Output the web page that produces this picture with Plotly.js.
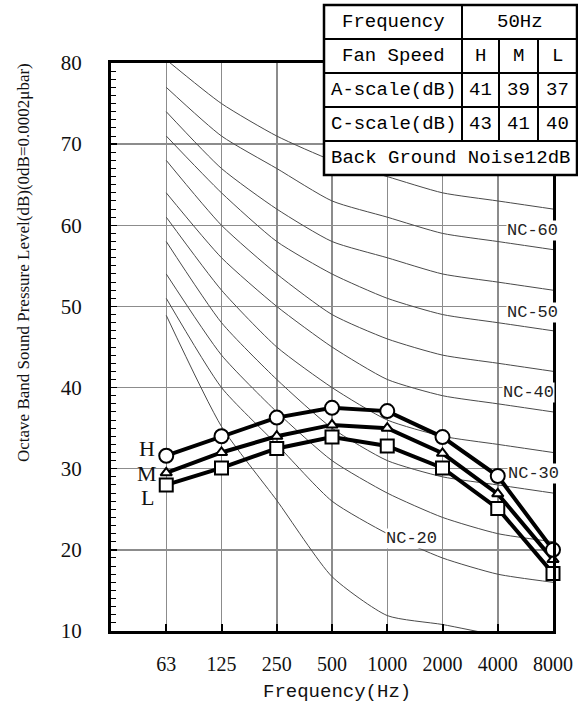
<!DOCTYPE html>
<html>
<head>
<meta charset="utf-8">
<script src="https://cdn.plot.ly/plotly-3.0.1.min.js"></script>
<style>html,body{margin:0;padding:0;background:#fff;}#chart{width:578px;height:711px;}</style>
</head>
<body>
<div id="chart"></div>
<script>
// ---- data ----
const categories = ["63", "125", "250", "500", "1000", "2000", "4000", "8000"];
const speedH = [31.6, 34.0, 36.3, 37.5, 37.1, 33.9, 29.1, 20.0];
const speedM = [29.5, 32.0, 34.0, 35.4, 35.0, 31.9, 26.9, 18.8];
const speedL = [28.0, 30.1, 32.5, 33.9, 32.8, 30.1, 25.1, 17.1];
const nc65 = [80.4, 75, 71, 68, 66, 64, 63, 62];
const nc60 = [77, 71, 67, 63, 61, 59, 58, 57];
const nc55 = [74, 67, 62, 58, 56, 54, 53, 52];
const nc50 = [71, 64, 58, 54, 51, 49, 48, 47];
const nc45 = [68, 60, 54, 49, 46, 44, 43, 42];
const nc40 = [64, 56, 50, 45, 41, 39, 38, 37];
const nc35 = [61, 52, 45, 40, 36, 34, 33, 32];
const nc30 = [58, 48, 41, 35, 31, 29, 28, 27];
const nc25 = [54, 44, 37, 31, 27, 24, 22, 21];
const nc20 = [51, 40, 33, 26, 22, 19, 17, 16];
const nc15 = [48.9, 35.2, 26.1, 16.7, 11.9, 10.8, 9.5, 9];
const ncCurves = [nc65, nc60, nc55, nc50, nc45, nc40, nc35, nc30, nc25, nc20, nc15];
const ncLabels = ["NC-60", "NC-50", "NC-40", "NC-30", "NC-20"];
const tableRows = [
  ["Frequency", "50Hz"],
  ["Fan Speed", "H", "M", "L"],
  ["A-scale(dB)", "41", "39", "37"],
  ["C-scale(dB)", "43", "41", "40"],
  ["Back Ground Noise12dB"]
];
const speedLabels = ["H", "M", "L"];

// ---- layout helpers (pixel -> paper) ----
const W = 578, H = 711, L = 111, R = 553, T = 63, B = 631;
const px = v => (v - L) / (R - L);
const py = v => (B - v) / (B - T);
const xi = categories.map((c, i) => i);

const traces = [];
ncCurves.forEach(arr => {
  traces.push({
    x: xi, y: arr, mode: "lines", type: "scatter",
    line: {color: "#4a4a4a", width: 1, shape: "spline", smoothing: 0.6},
    hoverinfo: "skip", showlegend: false, cliponaxis: true
  });
});
const series = [
  {y: speedL, sym: "square", size: 13},
  {y: speedM, sym: "triangle-up", size: 10},
  {y: speedH, sym: "circle", size: 14}
];
series.forEach(s => {
  traces.push({
    x: xi, y: s.y, mode: "lines+markers", type: "scatter",
    line: {color: "#000", width: 4},
    marker: {symbol: s.sym, size: s.size, color: "#fff", line: {color: "#000", width: 2}},
    showlegend: false, cliponaxis: false
  });
});

const mono = "Liberation Mono, DejaVu Sans Mono, monospace";
const serif = "Liberation Serif, DejaVu Serif, serif";

const shapes = [];
const annotations = [];
// table
const tx = [324, 462, 499, 538, 577];
const ty = [5, 39, 73, 107, 141, 175];
shapes.push({type: "rect", xref: "paper", yref: "paper", x0: px(tx[0]), x1: px(tx[4]), y0: py(ty[0]), y1: py(ty[5]),
  fillcolor: "#fff", line: {color: "#000", width: 2.5}, layer: "above"});
for (let r = 1; r < 5; r++) {
  shapes.push({type: "line", xref: "paper", yref: "paper", x0: px(tx[0]), x1: px(tx[4]), y0: py(ty[r]), y1: py(ty[r]),
    line: {color: "#000", width: 2}, layer: "above"});
}
shapes.push({type: "line", xref: "paper", yref: "paper", x0: px(tx[1]), x1: px(tx[1]), y0: py(ty[0]), y1: py(ty[4]),
  line: {color: "#000", width: 2}, layer: "above"});
[2, 3].forEach(c => {
  shapes.push({type: "line", xref: "paper", yref: "paper", x0: px(tx[c]), x1: px(tx[c]), y0: py(ty[1]), y1: py(ty[4]),
    line: {color: "#000", width: 2}, layer: "above"});
});
tableRows.forEach((row, r) => {
  const yc = py((ty[r] + ty[r + 1]) / 2);
  let cells;
  if (row.length === 1) cells = [[(tx[0] + tx[4]) / 2, row[0]]];
  else if (row.length === 2) cells = [[(tx[0] + tx[1]) / 2, row[0]], [(tx[1] + tx[4]) / 2, row[1]]];
  else cells = row.map((t, c) => [(tx[c] + tx[c + 1]) / 2, t]);
  cells.forEach(([xc, t]) => annotations.push({
    xref: "paper", yref: "paper", x: px(xc), y: yc, text: t, showarrow: false,
    xanchor: "center", yanchor: "middle", font: {family: mono, size: 19, color: "#000"}
  }));
});
// NC labels
const ncPos = [[532, 230], [532, 312], [528, 392], [533, 473], [411, 538]];
ncLabels.forEach((t, i) => annotations.push({
  xref: "paper", yref: "paper", x: px(ncPos[i][0]), y: py(ncPos[i][1]), text: t, showarrow: false,
  xanchor: "center", yanchor: "middle", bgcolor: "#fff", borderpad: 0,
  font: {family: mono, size: 17, color: "#222"}
}));
// H M L labels
const hmlY = [448, 473, 497];
speedLabels.forEach((t, i) => annotations.push({
  xref: "paper", yref: "paper", x: px(147), y: py(hmlY[i]), text: t, showarrow: false,
  xanchor: "center", yanchor: "middle", font: {family: serif, size: 22, color: "#111"}
}));
// axis titles
annotations.push({xref: "paper", yref: "paper", x: px(337), y: py(692), text: "Frequency(Hz)", showarrow: false,
  xanchor: "center", yanchor: "middle", font: {family: mono, size: 19, color: "#111"}});
annotations.push({xref: "paper", yref: "paper", x: px(23), y: py(263), text: "Octave Band Sound Pressure Level(dB)(0dB=0.0002\u03bcbar)",
  showarrow: false, textangle: -90, xanchor: "center", yanchor: "middle", font: {family: serif, size: 17, color: "#111"}});

const layout = {
  width: W, height: H,
  margin: {l: L, r: W - R, t: T, b: H - B, pad: 0},
  paper_bgcolor: "#fff", plot_bgcolor: "#fff",
  showlegend: false,
  xaxis: {
    range: [-1, 7], tickvals: xi, ticktext: categories, showgrid: true, gridcolor: "#8c8c8c", gridwidth: 1.5,
    zeroline: false, showline: true, linecolor: "#000", linewidth: 3, mirror: true,
    ticks: "inside", ticklen: 7, tickwidth: 2, tickcolor: "#000", ticklabelstandoff: 13,
    tickfont: {family: serif, size: 20, color: "#111"}, fixedrange: true
  },
  yaxis: {
    range: [10, 80], dtick: 10, tick0: 10, showgrid: true, gridcolor: "#8c8c8c", gridwidth: 1.5,
    zeroline: false, showline: true, linecolor: "#000", linewidth: 3, mirror: true,
    ticks: "inside", ticklen: 6, tickwidth: 1.5, tickcolor: "#000", ticklabelstandoff: 22,
    minor: {dtick: 1, ticks: "inside", ticklen: 5, tickwidth: 1, tickcolor: "#000", showgrid: false},
    tickfont: {family: serif, size: 21, color: "#111"}, fixedrange: true
  },
  shapes: shapes,
  annotations: annotations
};
Plotly.newPlot("chart", traces, layout, {staticPlot: true, displayModeBar: false});
</script>
</body>
</html>
